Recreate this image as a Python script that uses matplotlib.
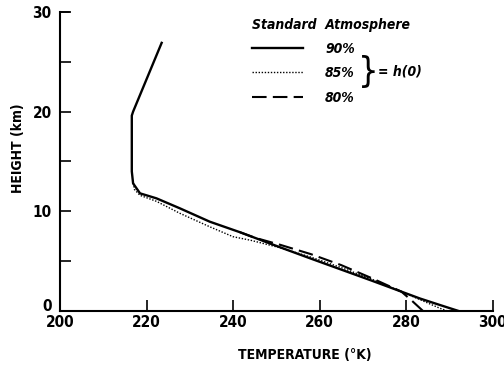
import numpy as np
import matplotlib
matplotlib.use("Agg")
import matplotlib.pyplot as plt
import matplotlib.transforms as mtransforms

# temperature (K) / height (km) profiles
T90 = [292.1, 287.8, 283.2, 278.9, 272.0, 265.0, 258.0, 250.8, 241.6, 234.6,
       227.7, 222.3, 218.5, 216.9, 216.6, 216.6, 216.9, 223.5]
h90 = [0.0, 0.6, 1.25, 1.94, 3.05, 4.15, 5.25, 6.4, 7.9, 8.96,
       10.3, 11.3, 11.8, 12.8, 14.0, 19.6, 20.0, 26.9]

T85 = [289.5, 287.8, 283.4, 278.9, 272.0, 265.0, 258.0, 250.8, 244.0, 240.0,
       234.6, 227.7, 222.3, 218.5, 217.2, 216.8]
h85 = [0.0, 0.27, 1.1, 1.94, 3.2, 4.35, 5.4, 6.35, 7.1, 7.45,
       8.45, 9.8, 11.0, 11.6, 12.2, 13.3]

T80 = [283.9, 281.4, 278.9, 272.0, 268.5, 265.0, 258.0, 250.8, 245.0, 241.6]
h80 = [0.0, 1.0, 1.94, 3.3, 3.95, 4.6, 5.7, 6.65, 7.35, 7.9]

labels = ["90%", "85%", "80%"]
xticks = [200, 220, 240, 260, 280, 300]
yticks = [0, 5, 10, 15, 20, 25, 30]
yticklabels = ["0", "", "10", "", "20", "", "30"]

plt.rcParams['font.family'] = ['DejaVu Sans']
plt.rcParams['font.stretch'] = 'condensed'
plt.rcParams['font.weight'] = 'bold'

fig = plt.figure(figsize=(5.04, 3.68), dpi=100)
ax = fig.add_axes([0.119, 0.155, 0.8585, 0.8125])

l1, = ax.plot(T90, h90, 'k-', lw=1.7)
l2, = ax.plot(T85, h85, 'k', ls=(0, (1, 1.2)), lw=1.0)
l3, = ax.plot(T80, h80, 'k', ls=(0, (7, 3)), lw=1.5)

ax.set_xlim(200, 300)
ax.set_ylim(0, 30)
ax.set_xticks(xticks)
ax.set_yticks(yticks)
ax.set_yticklabels(yticklabels)
ax.spines['top'].set_visible(False)
ax.spines['right'].set_visible(False)
ax.spines['left'].set_linewidth(1.5)
ax.spines['bottom'].set_linewidth(1.5)
ax.tick_params(axis='both', direction='in', length=8, width=1.2, labelsize=11)
ax.tick_params(axis='x', pad=3)
ax.tick_params(axis='y', pad=6)

# lift the "0" a little so it sits above the "200", as in the original
zero = ax.get_yticklabels()[0]
zero.set_transform(zero.get_transform() +
                   mtransforms.ScaledTranslation(0, 4 / 72, fig.dpi_scale_trans))

# top tick at 30 km
ax.plot([200, 202], [30, 30], 'k-', lw=1.2, clip_on=False)

leg = ax.legend([l1, l2, l3], labels, loc='upper left', bbox_to_anchor=(0.43, 1.0),
                frameon=False, handlelength=3.7, handletextpad=1.6,
                labelspacing=0.75, borderaxespad=0, fontsize=10,
                title="Standard  Atmosphere",
                title_fontproperties={'style': 'italic', 'weight': 'bold',
                                      'size': 10, 'stretch': 'condensed'})
leg._legend_box.align = "left"
for t in leg.get_texts():
    t.set_style('italic')

ax.text(0.688, 0.80, "}", transform=ax.transAxes, fontsize=26,
        fontweight='normal', va='center', ha='left')
ax.text(0.735, 0.80, "= h(0)", transform=ax.transAxes, fontsize=10,
        style='italic', va='center', ha='left')

fig.text(0.605, 0.035, "TEMPERATURE (°K)", ha='center', va='center', fontsize=10)
fig.text(0.036, 0.598, "HEIGHT (km)", ha='center', va='center', fontsize=10,
         rotation=90)

plt.savefig("out.png", dpi=100)
